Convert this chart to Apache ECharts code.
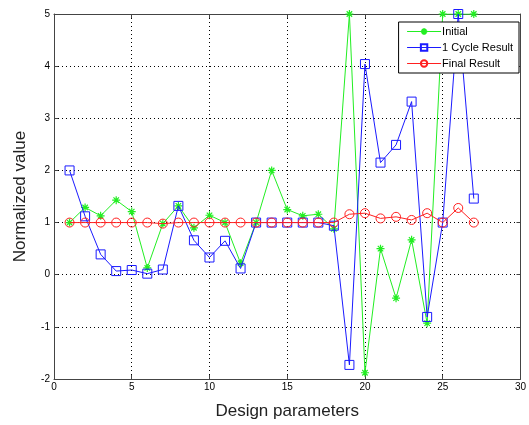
<!DOCTYPE html>
<html><head><meta charset="utf-8">
<script src="https://cdn.jsdelivr.net/npm/echarts@6/dist/echarts.min.js"></script>
<style>html,body{margin:0;padding:0;background:#fff}#c{width:529px;height:425px}</style>
</head><body><div id="c"></div>
<script>
const params = [1,2,3,4,5,6,7,8,9,10,11,12,13,14,15,16,17,18,19,20,21,22,23,24,25,26,27];
const initial = [1.0,1.29,1.13,1.43,1.21,0.13,0.98,1.32,0.9,1.14,1.0,0.22,1.0,2.0,1.25,1.13,1.16,0.88,5.0,-1.88,0.5,-0.45,0.67,-0.93,5.0,5.0,5.0];
const cycle1 = [2.0,1.12,0.39,0.07,0.09,0.02,0.1,1.32,0.66,0.33,0.65,0.12,1.0,1.0,1.0,1.0,1.0,0.94,-1.73,4.04,2.15,2.49,3.32,-0.81,1.0,5.0,1.46];
const finalRes = [1.0,1.0,1.0,1.0,1.0,1.0,0.98,1.0,1.0,1.0,1.0,1.0,1.0,1.0,1.0,1.0,1.0,1.0,1.16,1.18,1.08,1.11,1.05,1.18,1.0,1.28,1.0];
const xTicks = {min:0,max:30,interval:5};
const yTicks = {min:-2,max:5,interval:1};

const pair = arr => params.map((p,i)=>[p,arr[i]]);
const chart = echarts.init(document.getElementById('c'), null, {renderer:'canvas'});
const F = 'Liberation Sans, Arial, sans-serif';
const star = 'path://M0,5L10,5M5,0L5,10M1.6,1.6L8.4,8.4M1.6,8.4L8.4,1.6';
const axisCommon = {
  axisLine:{show:true,onZero:false,lineStyle:{color:'#444',width:1}},
  axisTick:{show:true,inside:true,length:4,lineStyle:{color:'#444'}},
};
chart.setOption({
  animation:false,
  backgroundColor:'#fff',
  grid:{left:54,right:7,top:14,bottom:42,show:false},
  legend:{
    right:10,top:22,orient:'vertical',
    backgroundColor:'#fff',borderColor:'#000',borderWidth:1,
    padding:[4,6,4,8],itemGap:5,itemWidth:34,itemHeight:8,
    lineStyle:{width:1},
    textStyle:{fontFamily:F,fontSize:11,color:'#000',padding:[0,0,0,-4]},
    data:['Initial','1 Cycle Result','Final Result']
  },
  xAxis:[{
    type:'value',min:xTicks.min,max:xTicks.max,interval:xTicks.interval,
    name:'Design parameters',nameLocation:'middle',nameGap:24,
    nameTextStyle:{fontFamily:F,fontSize:17,color:'#222'},
    axisLabel:{fontFamily:F,fontSize:10,color:'#000',margin:3},
    splitLine:{show:true,lineStyle:{color:'#000',type:[1,3],width:1}},
    ...axisCommon
  },{
    type:'value',position:'top',min:xTicks.min,max:xTicks.max,interval:xTicks.interval,
    axisLabel:{show:false},splitLine:{show:false},...axisCommon
  }],
  yAxis:[{
    type:'value',min:yTicks.min,max:yTicks.max,interval:yTicks.interval,
    name:'Normalized value',nameLocation:'middle',nameGap:25,
    nameTextStyle:{fontFamily:F,fontSize:17,color:'#222'},
    axisLabel:{fontFamily:F,fontSize:10,color:'#000',margin:4},
    splitLine:{show:true,lineStyle:{color:'#000',type:[1,3],width:1}},
    ...axisCommon
  },{
    type:'value',position:'right',min:yTicks.min,max:yTicks.max,interval:yTicks.interval,
    axisLabel:{show:false},splitLine:{show:false},...axisCommon
  }],
  series:[
    {name:'Initial',type:'line',data:pair(initial),symbol:star,symbolSize:8,
     lineStyle:{color:'#22ee22',width:1},
     itemStyle:{color:'#22ee22',borderColor:'#22ee22',borderWidth:1.2},z:2},
    {name:'1 Cycle Result',type:'line',data:pair(cycle1),symbol:'rect',symbolSize:9,
     lineStyle:{color:'#1a1aff',width:1},
     itemStyle:{color:'rgba(0,0,0,0)',borderColor:'#1a1aff',borderWidth:1},z:3},
    {name:'Final Result',type:'line',data:pair(finalRes),symbol:'circle',symbolSize:9,
     lineStyle:{color:'#ff2020',width:1},
     itemStyle:{color:'rgba(0,0,0,0)',borderColor:'#ff2020',borderWidth:1},z:4}
  ]
});
</script></body></html>
